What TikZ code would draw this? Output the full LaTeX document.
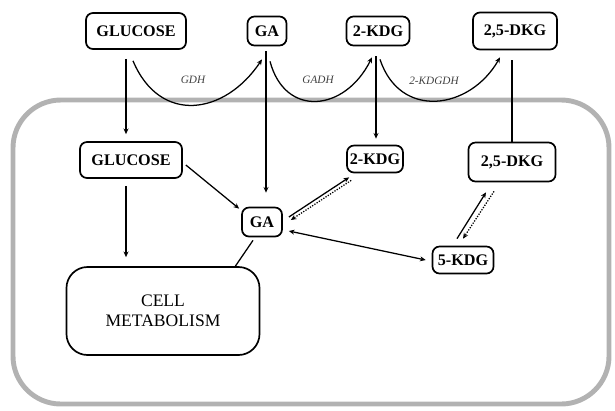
\documentclass[tikz,border=0pt]{standalone}
\usepackage{fontspec}
\setmainfont{Liberation Serif}
\usetikzlibrary{calc,arrows.meta}
\tikzset{
  box/.style={draw, line width=1.2pt, rounded corners=5pt, inner sep=0pt, font=\fontsize{11.5}{13}\selectfont\bfseries},
  enz/.style={font=\fontsize{8}{9}\selectfont\itshape, text=black!75},
  flow/.style={-{Stealth[length=4pt,width=3.5pt]}, line width=0.9pt},
  both/.style={{Stealth[length=4pt,width=3.5pt]}-{Stealth[length=4pt,width=3.5pt]}, line width=0.9pt},
  wall/.style={draw=black!30, line width=3.5pt, rounded corners=34pt}
}
\begin{document}
\begin{tikzpicture}[x=0.025cm, y=-0.025cm]
\useasboundingbox (0,0) rectangle (615,410);
% cell wall
\draw[wall] (13,100) rectangle (609,404);
% outside the cell
\node[box, minimum width=2.5cm, minimum height=0.9cm] (gluT) at (136,31) {GLUCOSE};
\node[box, minimum width=0.975cm, minimum height=0.725cm] (gaT) at (267,31) {GA};
\node[box, minimum width=1.575cm, minimum height=0.725cm] (kdgT) at (378,31) {2-KDG};
\node[box, minimum width=2.1cm, minimum height=0.925cm] (dkgT) at (515,31) {2,5-DKG};
% inside the cell
\node[box, minimum width=2.55cm, minimum height=0.9cm] (gluI) at (131,160) {GLUCOSE};
\node[box, minimum width=1cm, minimum height=0.725cm] (gaI) at (262,222) {GA};
\node[box, minimum width=1.4cm, minimum height=0.675cm] (kdgI) at (375,159) {2-KDG};
\node[box, minimum width=2.175cm, minimum height=0.975cm] (dkgI) at (512,162) {2,5-DKG};
\node[box, minimum width=1.525cm, minimum height=0.675cm] (kdg5) at (463,260) {5-KDG};
\node[box, rounded corners=15pt, minimum width=4.825cm, minimum height=2.2cm, align=center,
  font=\fontsize{12.5}{14}\selectfont] (cell) at (163,311) {CELL\\METABOLISM};
% oxidation steps
\draw[flow] ($(gluT.south)+(-3,11)$) .. controls (160,125) and (225,115) .. ($(gaT.south)+(-5,13)$);
\draw[flow] ($(gaT.south)+(3,15)$) .. controls (285,118) and (345,112) .. ($(kdgT.south)+(-6,11)$);
\draw[flow] ($(kdgT.south)+(2,13)$) .. controls (400,120) and (470,110) .. ($(dkgT.south)+(-15,7)$);
\node[enz] (gdh) at (193,80) {GDH};
\node[enz] (gadh) at (318,80) {GADH};
\node[enz] (kdgdh) at (434,81) {2-KDGDH};
% uptake
\draw[flow] ($(gluT.south)+(-10,9)$) -- ($(gluI.north)+(-5,-7)$);
\draw[flow] ($(gaT.south)+(-1,5)$) -- ($(gaI.north)+(4,-14)$);
\draw[flow] ($(kdgT.south)+(-2,10)$) -- ($(kdgI.north)+(1,-6)$);
\draw[line width=0.9pt] ($(dkgT.south)+(-3,10)$) -- (dkgI.north);
% inside
\draw[flow] ($(gluI.east)+(3,5)$) -- ($(gaI.north west)+(-2,2)$);
\draw[flow] ($(gluI.south)+(-5,7)$) -- ($(cell.north)+(-37,-9)$);
\draw[line width=0.9pt] ($(gaI.south)+(-9,3)$) -- ($(cell.north east)+(-25,0)$);
\draw[flow] ($(gaI.east)+(6,-5)$) -- ($(kdgI.south west)+(3,4)$);
\draw[flow, densely dotted] ($(kdgI.south west)+(5,7)$) -- ($(gaI.east)+(8,-2)$);
\draw[both] ($(gaI.east)+(6,9)$) -- ($(kdg5.west)+(-6,0)$);
\draw[flow] ($(kdg5.north)+(-6,-7)$) -- ($(dkgI.south)+(-26,10)$);
\draw[flow, densely dotted] ($(dkgI.south)+(-18,9)$) -- ($(kdg5.north)+(0,-7)$);
\end{tikzpicture}
\end{document}
